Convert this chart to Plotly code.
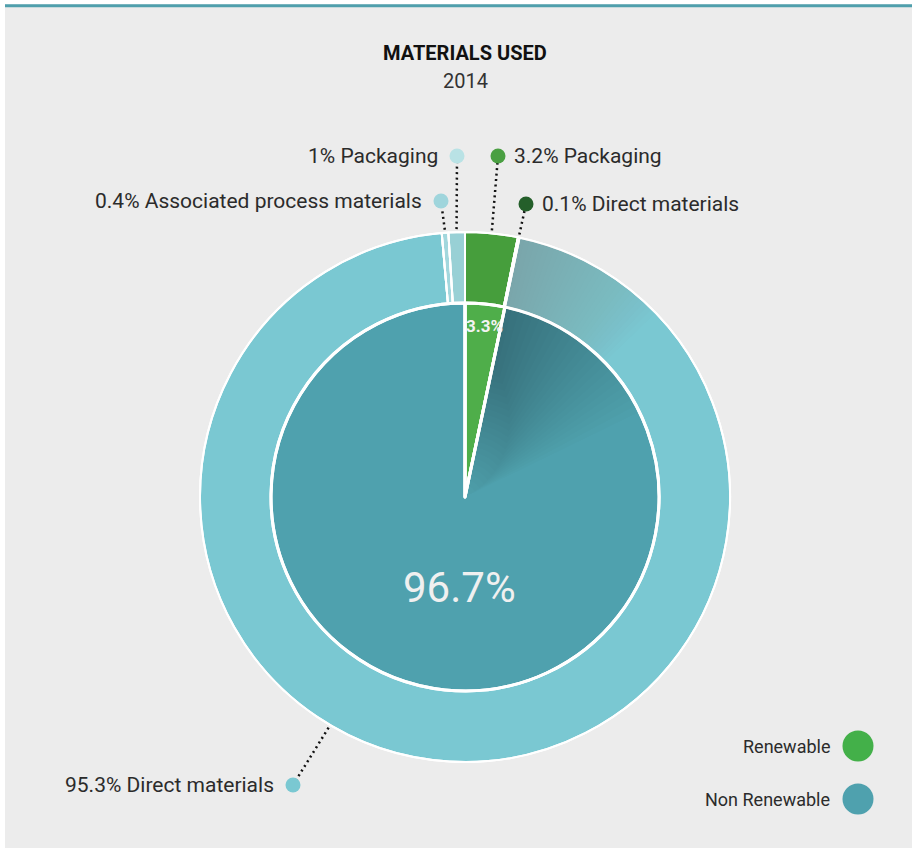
import math
import plotly.graph_objects as go

# ---------------- data ----------------
outer_names = ["Packaging", "Direct materials", "Direct materials",
               "Associated process materials", "Packaging"]
outer_values = [3.2, 0.1, 95.3, 0.4, 1.0]
outer_colors = ["#469e3c", "#235f2b", "#7ac8d2", "#a2d7dd", "#98d0d5"]
outer_dot_colors = ["#4a9f42", "#245f2a", "#7ac8d2", "#9fd5dc", "#b9e2e5"]

inner_labels = ["Renewable", "Non Renewable"]
inner_values = [3.3, 96.7]
inner_colors = ["#4fae4a", "#4fa1ae"]
legend_colors = ["#43b049", "#4fa1ae"]

title = "MATERIALS USED"
subtitle = "2014"

# ---------------- layout geometry (pixels) ----------------
W, H = 912, 848
CX, CY = 465, 497
R_OUT, R_IN = 265, 194
FONT = "Roboto, Open Sans, sans-serif"

# label dot positions and text side for each outer slice
label_dots = [(498, 156, "left"), (526, 204, "left"), (293, 785, "right"),
              (441, 201, "right"), (457, 156, "right")]
label_angle_override = {2: 210.6}


def px_to_paper(x, y):
    return x / W, 1 - y / H


def domain(r):
    x0, y0 = px_to_paper(CX - r, CY + r)
    x1, y1 = px_to_paper(CX + r, CY - r)
    return dict(x=[x0, x1], y=[y0, y1])


def polar(r, deg):
    t = math.radians(deg)
    return CX + r * math.sin(t), CY - r * math.cos(t)


fig = go.Figure()
hole = R_IN / R_OUT
common = dict(sort=False, direction="clockwise", rotation=0, textinfo="none",
              hoverinfo="skip", showlegend=False)

# outer ring
fig.add_trace(go.Pie(values=outer_values, marker=dict(colors=outer_colors,
                     line=dict(color="white", width=2)),
                     hole=hole, domain=domain(R_OUT), **common))
# inner pie
fig.add_trace(go.Pie(values=inner_values, marker=dict(colors=inner_colors,
                     line=dict(color="white", width=3)),
                     domain=domain(R_IN), **common))

# shading (decorative gradient) after the renewable share
start_deg = inner_values[0] / sum(inner_values) * 360
total = sum(inner_values)


def add_shade(r_outer, r_inner_min, color, alpha_total, end_deg, n, radial):
    a = 1 - (1 - alpha_total) ** (1 / n)
    for k in range(1, n + 1):
        span = (end_deg - start_deg) * k / n
        v = span / 360 * total
        if radial:
            depth = r_outer * (0.3 + 0.7 * k / n)
            h = max(0.0, 1 - depth / r_outer)
        else:
            h = r_inner_min / r_outer
        fig.add_trace(go.Pie(values=[v, total - v],
                             marker=dict(colors=[color.format(a), "rgba(0,0,0,0)"],
                                         line=dict(width=0)),
                             hole=h, domain=domain(r_outer),
                             sort=False, direction="clockwise",
                             rotation=start_deg, textinfo="none",
                             hoverinfo="skip", showlegend=False))


add_shade(R_OUT, R_IN, "rgba(120,125,130,{})", 0.38, 46, 30, False)
add_shade(R_IN, 0, "rgba(0,0,0,{})", 0.27, 64, 24, True)

# redraw white borders on top of shading
fig.add_trace(go.Pie(values=outer_values,
                     marker=dict(colors=["rgba(0,0,0,0)"] * len(outer_values),
                                 line=dict(color="white", width=2)),
                     hole=hole, domain=domain(R_OUT), **common))
fig.add_trace(go.Pie(values=inner_values,
                     marker=dict(colors=["rgba(0,0,0,0)"] * len(inner_values),
                                 line=dict(color="white", width=3)),
                     domain=domain(R_IN), **common))

# ---------------- leader lines, dots and labels ----------------
annotations = []
cum = 0
otot = sum(outer_values)
for i, (name, v) in enumerate(zip(outer_names, outer_values)):
    mid = (cum + v / 2) / otot * 360
    cum += v
    ang = label_angle_override.get(i, mid)
    sx, sy = polar(R_OUT + 3, ang)
    dx, dy, side = label_dots[i]
    fig.add_trace(go.Scatter(x=[sx, dx], y=[sy, dy], mode="lines",
                             line=dict(color="#111111", width=2.5, dash="2px,3.5px"),
                             hoverinfo="skip", showlegend=False))
    fig.add_trace(go.Scatter(x=[dx], y=[dy], mode="markers",
                             marker=dict(size=15, color=outer_dot_colors[i]),
                             hoverinfo="skip", showlegend=False))
    if side == "left":
        tx, xa = dx + 14, "left"
    else:
        tx, xa = dx - 17, "right"
    annotations.append(dict(x=tx, y=dy, xref="x", yref="y", xanchor=xa,
                            yanchor="middle", showarrow=False,
                            text=f"{v:g}% {name}",
                            font=dict(family=FONT, size=21, color="#2b2b2b")))

# inner value labels
cum = 0
for i, v in enumerate(inner_values):
    mid = (cum + v / 2) / total * 360
    cum += v
    if i == 0:
        x, y = polar(R_IN - 20, mid)
        annotations.append(dict(x=x + 1, y=y + 2, xref="x", yref="y", showarrow=False,
                                text=f"<b>{v:g}%</b>",
                                font=dict(family=FONT, size=17, color="#f3f3f3")))
    else:
        x, y = polar(R_IN * 0.47, mid)
        annotations.append(dict(x=x + 4, y=y, xref="x", yref="y", showarrow=False,
                                text=f"{v:g}%",
                                font=dict(family=FONT, size=42, color="#f0f0f0")))

# legend
legend_y = [746, 799]
for lab, col, ly in zip(inner_labels, legend_colors, legend_y):
    fig.add_trace(go.Scatter(x=[858], y=[ly], mode="markers",
                             marker=dict(size=31, color=col),
                             hoverinfo="skip", showlegend=False))
    annotations.append(dict(x=832, y=ly, xref="x", yref="y", xanchor="right",
                            yanchor="middle", showarrow=False, text=lab,
                            font=dict(family=FONT, size=18, color="#2b2b2b")))

# title
annotations.append(dict(x=CX, y=53, xref="x", yref="y", showarrow=False,
                        text=f"<b>{title}</b>",
                        font=dict(family=FONT, size=20, color="#111111")))
annotations.append(dict(x=CX, y=81, xref="x", yref="y", showarrow=False,
                        text=subtitle,
                        font=dict(family=FONT, size=20, color="#333333")))

shapes = [
    dict(type="rect", xref="x", yref="y", x0=0, x1=W, y0=0, y1=4.3,
         fillcolor="white", line=dict(width=0), layer="below"),
    dict(type="rect", xref="x", yref="y", x0=0, x1=5, y0=0, y1=H,
         fillcolor="white", line=dict(width=0), layer="below"),
    dict(type="rect", xref="x", yref="y", x0=5, x1=W, y0=4.3, y1=7.3,
         fillcolor="#4f9fac", line=dict(width=0), layer="below"),
]

fig.update_layout(
    width=W, height=H, margin=dict(l=0, r=0, t=0, b=0),
    paper_bgcolor="#ececec", plot_bgcolor="rgba(0,0,0,0)",
    xaxis=dict(range=[0, W], visible=False, fixedrange=True, domain=[0, 1]),
    yaxis=dict(range=[H, 0], visible=False, fixedrange=True, domain=[0, 1]),
    annotations=annotations, shapes=shapes,
)

fig.write_html("out.html",
               config={"displayModeBar": False},
               post_script="document.body.style.margin='0px';"
                           "document.body.style.padding='0px';"
                           "document.body.style.overflow='hidden';")
